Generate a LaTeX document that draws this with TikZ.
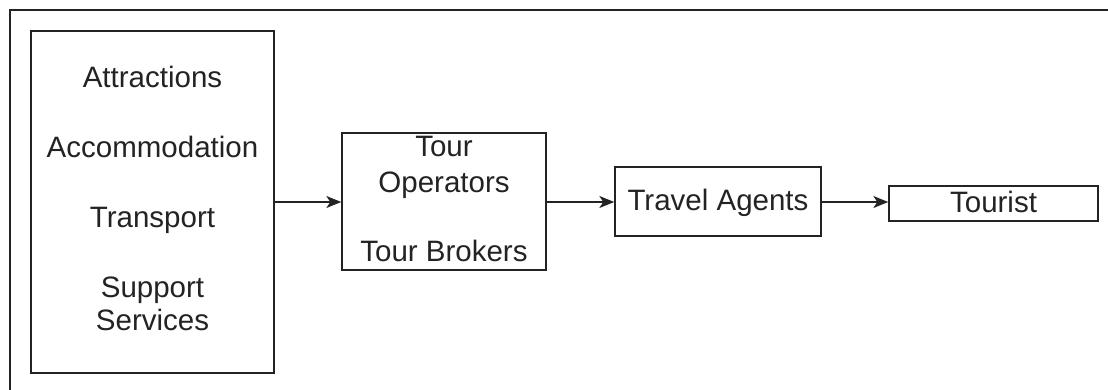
\documentclass[tikz,border=0pt]{standalone}
\usepackage{fontspec}
\setmainfont{Liberation Sans}
\usetikzlibrary{arrows.meta,positioning}
\definecolor{inkGrey}{RGB}{35,35,35}

\begin{document}
\begin{tikzpicture}[x=1pt, y=-1pt,
    box/.style={rectangle, draw=inkGrey, line width=1.4pt, inner sep=0pt},
    lbl/.style={anchor=base, inner sep=0pt, text=inkGrey,
                font=\fontsize{29.5}{34}\selectfont},
    arr/.style={-{Stealth[length=15pt, width=12pt, inset=4pt]}, line width=1.3pt, inkGrey}]

    \useasboundingbox (0,0) rectangle (1108,390);

    % Frame (top and left edges only)
    \draw[inkGrey, line width=1.5pt] (10,390) -- (10,10) -- (1108,10);

    % Boxes
    \node[box, minimum width=243pt, minimum height=342pt] (supply) at (152.5,202) {};
    \node[box, minimum width=204pt, minimum height=137pt] (tour) at (444,201.5) {};
    \node[box, minimum width=206pt, minimum height=69pt] (agents) at (718,201.5) {};
    \node[box, minimum width=209pt, minimum height=35pt] (tourist) at (993.5,203.5) {};

    % Labels
    \node[lbl] (attr) at (152.5,88) {Attractions};
    \node[lbl] (accom) at (152.5,158) {Accommodation};
    \node[lbl] (trans) at (152.5,228) {Transport};
    \node[lbl] (supp) at (152.5,297) {Support};
    \node[lbl] (serv) at (152.5,330) {Services};
    \node[lbl] (tourA) at (444,157) {Tour};
    \node[lbl] (tourB) at (444,193) {Operators};
    \node[lbl] (tourC) at (444,261) {Tour Brokers};
    \node[lbl] (agentsT) at (718,211) {Travel Agents};
    \node[lbl] (touristT) at (993.5,212) {Tourist};

    % Chain arrows
    \draw[arr] (supply.east |- 0,202) -- (tour.west |- 0,202);
    \draw[arr] (tour.east |- 0,202) -- (agents.west |- 0,202);
    \draw[arr] (agents.east |- 0,202) -- (tourist.west |- 0,202);

\end{tikzpicture}
\end{document}
